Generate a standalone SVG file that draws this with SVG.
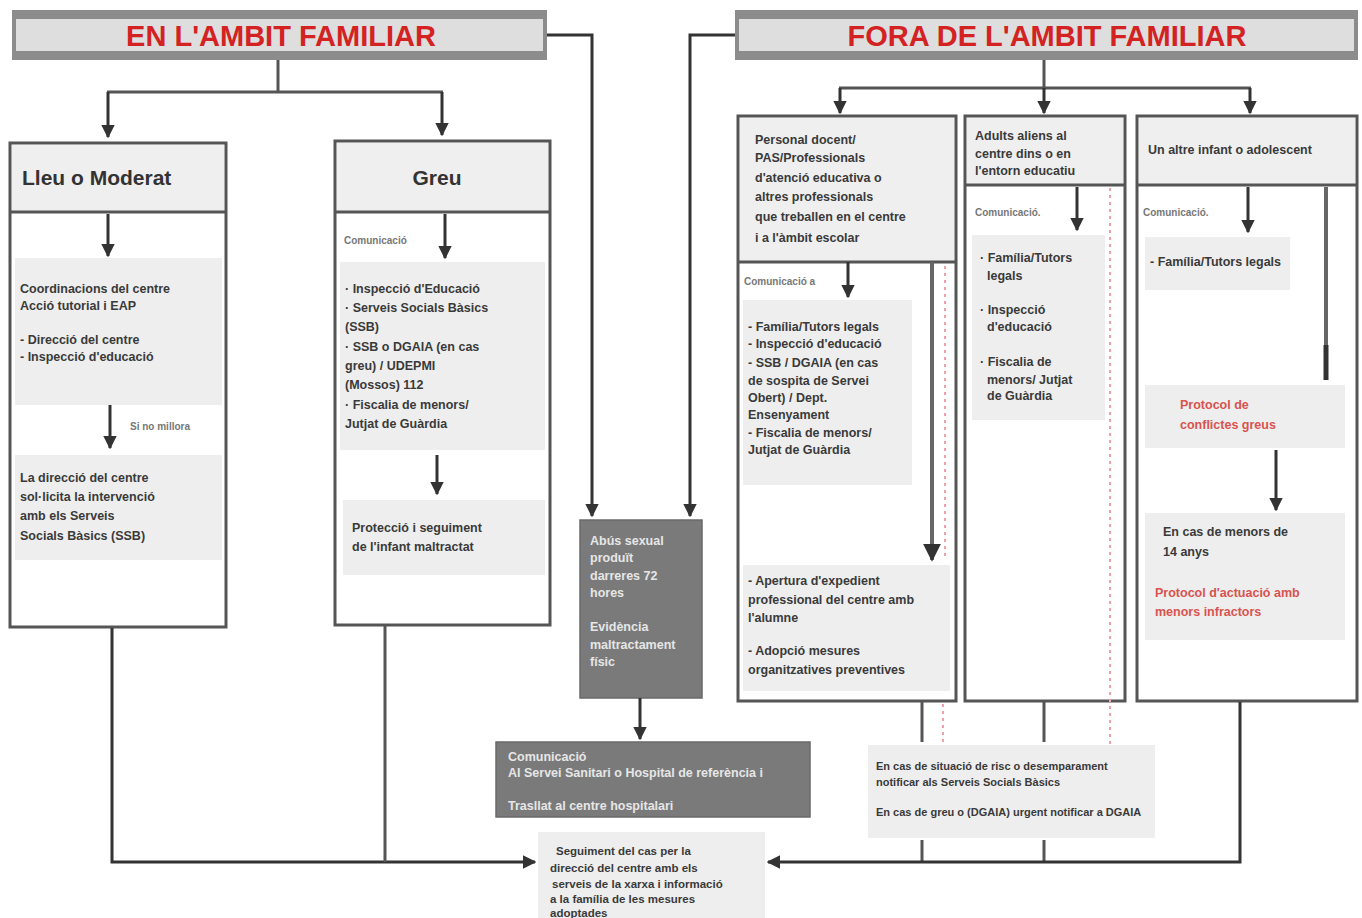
<svg xmlns="http://www.w3.org/2000/svg" width="1362" height="918" viewBox="0 0 1362 918">
<defs>
<marker id="ah" viewBox="0 0 10 10" refX="9" refY="5" markerWidth="4.5" markerHeight="4.5" orient="auto"><path d="M0,0 L10,5 L0,10 z" fill="#333"/></marker>
<style>
text{font-family:"Liberation Sans",Arial,sans-serif;}
.title{font-size:29px;font-weight:bold;fill:#d42222;text-anchor:middle;}
.hd{font-size:21px;font-weight:bold;fill:#333;}
.t{font-size:12.5px;font-weight:bold;fill:#3a3a3a;}
.s{font-size:10px;font-weight:bold;fill:#777;}
.w{font-size:12.5px;font-weight:bold;fill:#e6e6e6;}
.r{font-size:12.5px;font-weight:bold;fill:#d9534f;}
.box{fill:#fff;stroke:#555;stroke-width:3;}
.hdr{fill:#efefef;}
.sub{fill:#eeeeee;}
.dark{fill:#7a7a7a;stroke:#6a6a6a;stroke-width:1.5;}
.ln{fill:none;stroke:#555;stroke-width:3;}
.ar{fill:none;stroke:#333;stroke-width:3;marker-end:url(#ah);}
.dot{fill:none;stroke:#f0a0a8;stroke-width:2;stroke-dasharray:3 4;}
</style>
</defs>
<rect width="1362" height="918" fill="#fff"/>

<g id="title-left">
<rect x="12" y="10" width="535" height="50" fill="#dedede"/>
<rect x="12" y="10" width="535" height="9" fill="#8c8c8c"/>
<rect x="12" y="51" width="535" height="9" fill="#8c8c8c"/>
<rect x="12" y="10" width="4" height="50" fill="#8c8c8c"/>
<rect x="543" y="10" width="4" height="50" fill="#8c8c8c"/>
<text class="title" x="281" y="46">EN L'AMBIT FAMILIAR</text>
</g>

<g id="title-right">
<rect x="735" y="10" width="623" height="50" fill="#dedede"/>
<rect x="735" y="10" width="623" height="9" fill="#8c8c8c"/>
<rect x="735" y="51" width="623" height="9" fill="#8c8c8c"/>
<rect x="735" y="10" width="4" height="50" fill="#8c8c8c"/>
<rect x="1354" y="10" width="4" height="50" fill="#8c8c8c"/>
<text class="title" x="1047" y="46">FORA DE L'AMBIT FAMILIAR</text>
</g>

<g id="lleu">
<rect class="box" x="10" y="143" width="216" height="484"/>
<rect class="hdr" x="12" y="145" width="212" height="66"/>
<line x1="10" y1="212" x2="226" y2="212" stroke="#555" stroke-width="3"/>
<text class="hd" x="22" y="185">Lleu o Moderat</text>
<rect class="sub" x="15" y="258" width="207" height="147"/>
<text class="t" x="20" y="293">Coordinacions del centre</text>
<text class="t" x="20" y="310">Acció tutorial i EAP</text>
<text class="t" x="20" y="344">- Direcció del centre</text>
<text class="t" x="20" y="361">- Inspecció d'educació</text>
<text class="s" x="130" y="430">Si no millora</text>
<rect class="sub" x="15" y="455" width="207" height="105"/>
<text class="t" x="20" y="482">La direcció del centre</text>
<text class="t" x="20" y="501">sol·licita la intervenció</text>
<text class="t" x="20" y="520">amb els Serveis</text>
<text class="t" x="20" y="540">Socials Bàsics (SSB)</text>
</g>

<g id="greu">
<rect class="box" x="335" y="141" width="215" height="484"/>
<rect class="hdr" x="337" y="143" width="211" height="68"/>
<line x1="335" y1="212" x2="550" y2="212" stroke="#555" stroke-width="3"/>
<text class="hd" x="437" y="185" text-anchor="middle">Greu</text>
<text class="s" x="344" y="244">Comunicació</text>
<rect class="sub" x="340" y="262" width="205" height="188"/>
<text class="t" x="345" y="293">· Inspecció d'Educació</text>
<text class="t" x="345" y="312">· Serveis Socials Bàsics</text>
<text class="t" x="345" y="331">(SSB)</text>
<text class="t" x="345" y="351"> · SSB o DGAIA (en cas</text>
<text class="t" x="345" y="370">greu) / UDEPMI</text>
<text class="t" x="345" y="389">(Mossos) 112</text>
<text class="t" x="345" y="409">· Fiscalia de menors/</text>
<text class="t" x="345" y="428">Jutjat de Guàrdia</text>
<rect class="sub" x="343" y="500" width="202" height="75"/>
<text class="t" x="352" y="532">Protecció i seguiment</text>
<text class="t" x="352" y="551">de l'infant maltractat</text>
</g>

<g id="urgent">
<rect class="dark" x="580" y="520" width="122" height="178"/>
<text class="w" x="590" y="545">Abús sexual</text>
<text class="w" x="590" y="562">produït</text>
<text class="w" x="590" y="580">darreres 72</text>
<text class="w" x="590" y="597">hores</text>
<text class="w" x="590" y="631">Evidència</text>
<text class="w" x="590" y="649">maltractament</text>
<text class="w" x="590" y="666">físic</text>
</g>

<g id="comunicacio-urgent">
<rect class="dark" x="496" y="742" width="314" height="75"/>
<text class="w" x="508" y="761">Comunicació</text>
<text class="w" x="508" y="777">Al Servei Sanitari o Hospital de referència i</text>
<text class="w" x="508" y="810">Trasllat al centre hospitalari</text>
</g>

<g id="personal">
<rect class="box" x="738" y="116" width="218" height="585"/>
<rect class="hdr" x="740" y="118" width="214" height="143"/>
<line x1="738" y1="262" x2="956" y2="262" stroke="#555" stroke-width="3"/>
<text class="t" x="755" y="144">Personal docent/</text>
<text class="t" x="755" y="162">PAS/Professionals</text>
<text class="t" x="755" y="182">d'atenció educativa o</text>
<text class="t" x="755" y="201">altres professionals</text>
<text class="t" x="755" y="221">que treballen en el centre</text>
<text class="t" x="755" y="242">i a l'àmbit escolar</text>
<text class="s" x="744" y="285">Comunicació a</text>
<rect class="sub" x="743" y="300" width="169" height="185"/>
<text class="t" x="748" y="331">- Família/Tutors legals</text>
<text class="t" x="748" y="348">- Inspecció d'educació</text>
<text class="t" x="748" y="367">- SSB / DGAIA (en cas</text>
<text class="t" x="748" y="385">de sospita de Servei</text>
<text class="t" x="748" y="402">Obert) / Dept.</text>
<text class="t" x="748" y="419">Ensenyament</text>
<text class="t" x="748" y="437">- Fiscalia de menors/</text>
<text class="t" x="748" y="454">Jutjat de Guàrdia</text>
<rect class="sub" x="743" y="565" width="207" height="126"/>
<text class="t" x="748" y="585">- Apertura d'expedient</text>
<text class="t" x="748" y="604">professional del centre amb</text>
<text class="t" x="748" y="622">l'alumne</text>
<text class="t" x="748" y="655">- Adopció mesures</text>
<text class="t" x="748" y="674">organitzatives preventives</text>
</g>

<g id="adults">
<rect class="box" x="965" y="116" width="160" height="585"/>
<rect class="hdr" x="967" y="118" width="156" height="66"/>
<line x1="965" y1="185" x2="1125" y2="185" stroke="#555" stroke-width="3"/>
<text class="t" x="975" y="140">Adults aliens al</text>
<text class="t" x="975" y="158">centre dins o en</text>
<text class="t" x="975" y="175">l'entorn educatiu</text>
<text class="s" x="975" y="216">Comunicació.</text>
<rect class="sub" x="972" y="235" width="133" height="185"/>
<text class="t" x="980" y="262">· Família/Tutors</text>
<text class="t" x="987" y="280">legals</text>
<text class="t" x="980" y="314">· Inspecció</text>
<text class="t" x="987" y="331">d'educació</text>
<text class="t" x="980" y="366">· Fiscalia de</text>
<text class="t" x="987" y="384">menors/ Jutjat</text>
<text class="t" x="987" y="400">de Guàrdia</text>
</g>

<g id="altre-infant">
<rect class="box" x="1137" y="116" width="220" height="585"/>
<rect class="hdr" x="1139" y="118" width="216" height="66"/>
<line x1="1137" y1="185" x2="1357" y2="185" stroke="#555" stroke-width="3"/>
<text class="t" x="1148" y="154" style="font-size:12.5px">Un altre infant o adolescent</text>
<text class="s" x="1143" y="216">Comunicació.</text>
<rect class="sub" x="1145" y="237" width="145" height="53"/>
<text class="t" x="1150" y="266">- Família/Tutors legals</text>
<rect class="sub" x="1145" y="385" width="200" height="63"/>
<text class="r" x="1180" y="409">Protocol de</text>
<text class="r" x="1180" y="429">conflictes greus</text>
<rect class="sub" x="1145" y="513" width="200" height="127"/>
<text class="t" x="1163" y="536">En cas de menors de</text>
<text class="t" x="1163" y="556">14 anys</text>
<text class="r" x="1155" y="597">Protocol d'actuació amb</text>
<text class="r" x="1155" y="616">menors infractors</text>
</g>

<g id="risc">
<rect class="sub" x="868" y="745" width="287" height="93"/>
<text class="t" x="876" y="770" style="font-size:11px">En cas de situació de risc o desemparament</text>
<text class="t" x="876" y="786" style="font-size:11px">notificar als Serveis Socials Bàsics</text>
<text class="t" x="876" y="816" style="font-size:11px">En cas de greu o (DGAIA) urgent notificar a DGAIA</text>
</g>

<g id="seguiment">
<rect class="sub" x="538" y="832" width="227" height="86"/>
<text class="t" x="556" y="855" style="font-size:11.5px">Seguiment del cas per la</text>
<text class="t" x="550" y="872" style="font-size:11.5px">direcció del centre amb els</text>
<text class="t" x="552" y="888" style="font-size:11.5px">serveis de la xarxa i informació</text>
<text class="t" x="550" y="903" style="font-size:11.5px">a la família de les mesures</text>
<text class="t" x="550" y="917" style="font-size:11.5px">adoptades</text>
</g>

<g id="connectors">
<polyline class="ln" points="278,60 278,92"/>
<line x1="107" y1="92" x2="443" y2="92" stroke="#555" stroke-width="3"/>
<line class="ar" x1="108" y1="92" x2="108" y2="137"/>
<line class="ar" x1="442" y1="92" x2="442" y2="135"/>
<line class="ar" x1="108" y1="214" x2="108" y2="256"/>
<line class="ar" x1="110" y1="405" x2="110" y2="448"/>
<line class="ar" x1="445" y1="214" x2="445" y2="258"/>
<line class="ar" x1="437" y1="455" x2="437" y2="494"/>
<polyline class="ar" points="547,35 592,35 592,516"/>
<polyline class="ar" points="735,35 690,35 690,516"/>
<line class="ar" x1="640" y1="698" x2="640" y2="739"/>
<polyline class="ln" points="1044,60 1044,88"/>
<line x1="839" y1="88" x2="1251" y2="88" stroke="#555" stroke-width="3"/>
<line class="ar" x1="840" y1="88" x2="840" y2="113"/>
<line class="ar" x1="1044" y1="88" x2="1044" y2="113"/>
<line class="ar" x1="1250" y1="88" x2="1250" y2="113"/>
<line class="ar" x1="848" y1="262" x2="848" y2="297"/>
<line x1="932" y1="262" x2="932" y2="560" stroke="#666" stroke-width="4" marker-end="url(#ah)"/>
<line class="dot" x1="945" y1="266" x2="945" y2="556"/>
<line class="dot" x1="1110" y1="188" x2="1110" y2="745"/>
<line class="dot" x1="943" y1="704" x2="943" y2="745"/>
<line class="ar" x1="1077" y1="187" x2="1077" y2="230"/>
<line class="ar" x1="1248" y1="187" x2="1248" y2="232"/>
<line x1="1326" y1="187" x2="1326" y2="345" stroke="#666" stroke-width="4"/>
<line x1="1326" y1="345" x2="1326" y2="380" stroke="#333" stroke-width="5"/>
<line class="ar" x1="1276" y1="450" x2="1276" y2="510"/>
<line class="ln" x1="922" y1="701" x2="922" y2="742"/>
<line class="ln" x1="1044" y1="701" x2="1044" y2="742"/>
<line class="ln" x1="922" y1="840" x2="922" y2="862"/>
<line class="ln" x1="1044" y1="840" x2="1044" y2="862"/>
<polyline class="ar" points="1240,702 1240,862 768,862"/>
<polyline class="ar" points="112,628 112,862 535,862"/>
<line class="ln" x1="385" y1="625" x2="385" y2="862"/>
</g>
</svg>
